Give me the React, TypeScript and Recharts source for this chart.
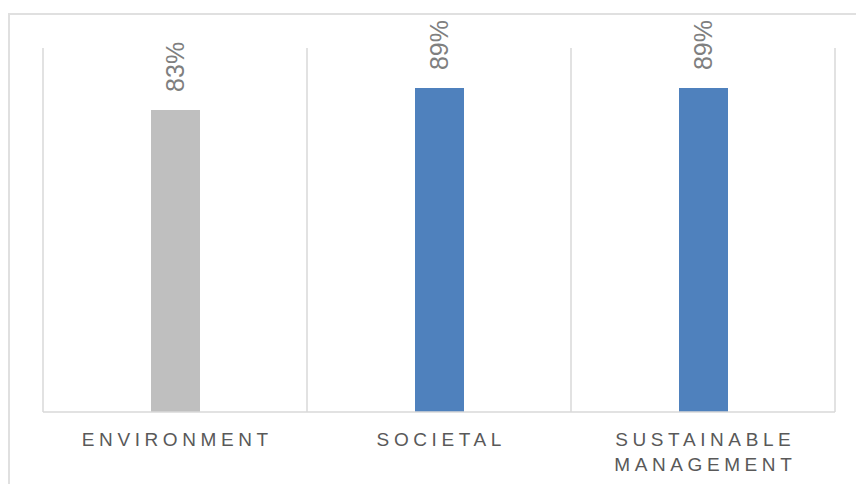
import { BarChart, Bar, XAxis, YAxis, CartesianGrid, Cell, LabelList } from 'recharts';

const categories = ['ENVIRONMENT', 'SOCIETAL', 'SUSTAINABLE MANAGEMENT'];
const shares = [0.83, 0.89, 0.89];
const barColors = ['#bfbfbf', '#4f81bd', '#4f81bd'];

const data = categories.map((name, i) => ({ name, value: shares[i] }));

const W = 856;
const H = 484;

/** Category ticks, wrapped onto two lines when they hold more than one word and are long. */
function CategoryTick({ x, y, payload }: any) {
  const words = String(payload.value).split(' ');
  const lines = words.length > 1 && payload.value.length > 14 ? words : [payload.value];
  return (
    <text x={x} y={y} textAnchor="middle" fill="#595959" fontSize={19} style={{ letterSpacing: 4.6 }}>
      {lines.map((l: string, i: number) => (
        <tspan key={l} x={x + 2.3} dy={i === 0 ? 26 : 25}>{l}</tspan>
      ))}
    </text>
  );
}

function ValueLabel({ x, y, width, value }: any) {
  const cx = x + width / 2 + 8.5;
  const cy = y - 18;
  return (
    <text x={cx} y={cy} transform={`rotate(-90 ${cx} ${cy})`} textAnchor="start" fill="#7f7f7f" fontSize={25}>
      {`${Math.round(value * 100)}%`}
    </text>
  );
}

export default function App() {
  return (
    <div style={{ position: 'absolute', left: 0, top: 0, width: W, height: H, overflow: 'hidden', fontFamily: 'Arial, "Liberation Sans", sans-serif', background: '#fff' }}>
      <div style={{ position: 'absolute', left: 8, top: 13, width: W, height: H, borderTop: '2px solid #e0e0e0', borderLeft: '2px solid #e0e0e0' }} />
      <div style={{ position: 'absolute', left: 0, top: 0 }}>
        <BarChart width={W} height={H} data={data} margin={{ top: 48, right: 21, bottom: 0, left: 43 }}>
          <CartesianGrid
            horizontal={false}
            stroke="#d9d9d9"
            strokeWidth={1.5}
            verticalCoordinatesGenerator={({ offset }: any) =>
              categories.map((_, i) => offset.left + (offset.width * i) / categories.length).concat(offset.left + offset.width)
            }
          />
          <XAxis dataKey="name" height={72} tickLine={false} axisLine={{ stroke: '#d9d9d9', strokeWidth: 1.5 }} tick={<CategoryTick />} interval={0} />
          <YAxis hide domain={[0, 1]} />
          <Bar dataKey="value" barSize={49} isAnimationActive={false}>
            {data.map((d, i) => (
              <Cell key={d.name} fill={barColors[i]} />
            ))}
            <LabelList dataKey="value" content={<ValueLabel />} />
          </Bar>
        </BarChart>
      </div>
    </div>
  );
}
